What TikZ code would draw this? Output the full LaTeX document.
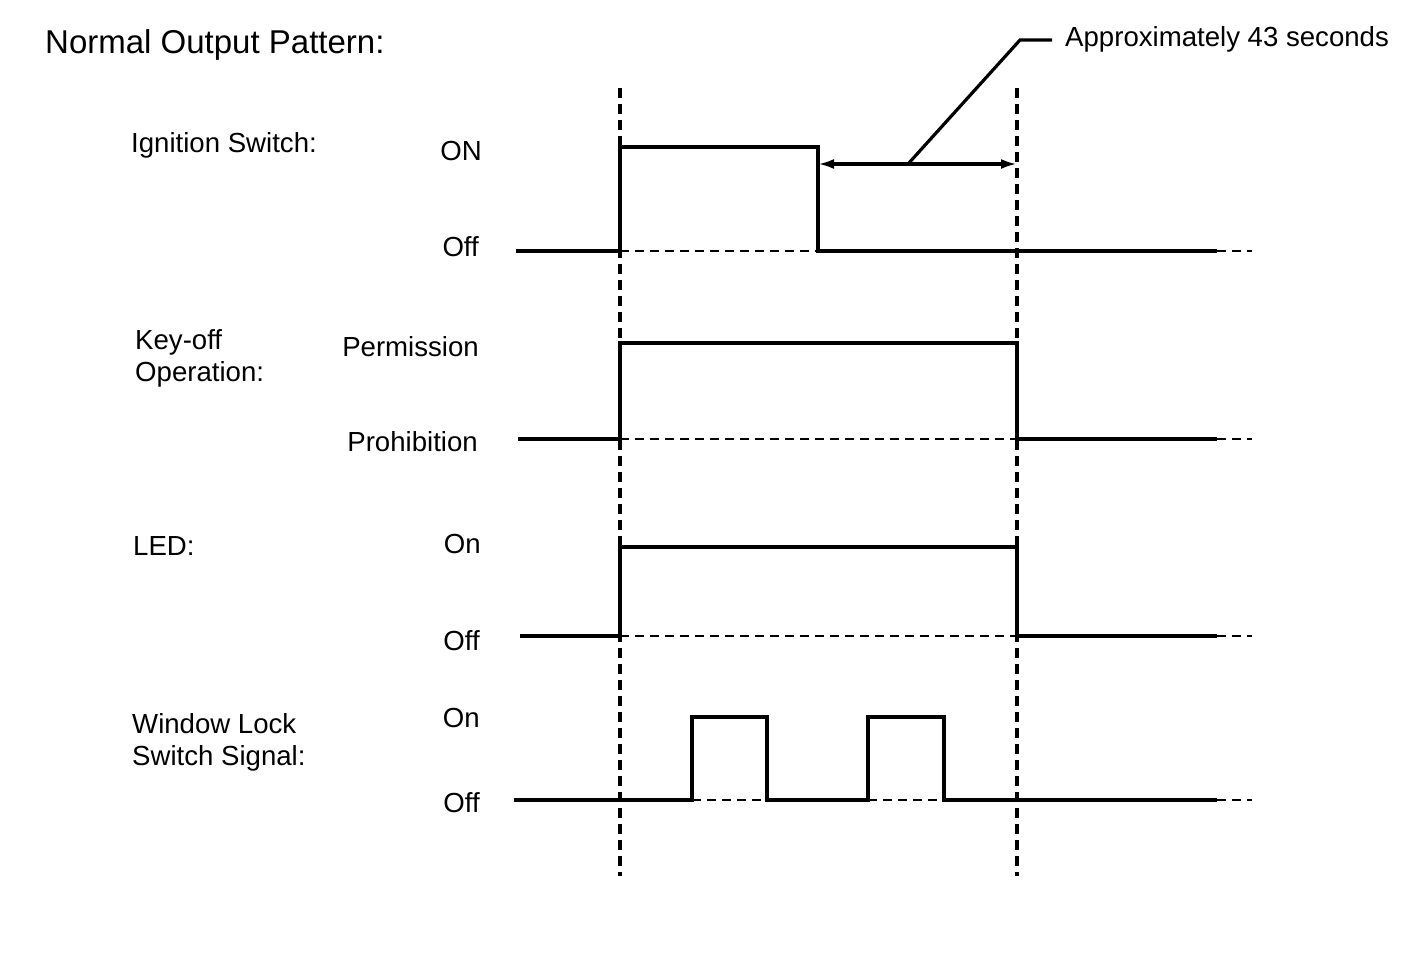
\documentclass[tikz,border=0pt]{standalone}
\usepackage{fontspec}
\setmainfont{Liberation Sans}
\usetikzlibrary{arrows.meta}
\begin{document}
\begin{tikzpicture}[x=1pt,y=-1pt,
  lbl/.style={inner sep=0pt,anchor=base west,font=\fontsize{27.6}{30.5}\selectfont},
  lvl/.style={inner sep=0pt,anchor=base east,font=\fontsize{27.6}{30.5}\selectfont},
  sig/.style={line width=4.5pt,line join=miter},
  guide/.style={line width=4pt,dash pattern=on 10pt off 6pt},
  ref/.style={line width=2.2pt,dash pattern=on 9pt off 6pt},
  dim/.style={line width=3.2pt,{Latex[length=16pt,width=10pt]}-{Latex[length=16pt,width=10pt]}},
  leader/.style={line width=3.2pt}]
\useasboundingbox (0,0) rectangle (1424,959);
% title
\node[lbl,font=\fontsize{33}{36}\selectfont] (title) at (45,53) {Normal Output Pattern:};
% row labels
\node[lbl] (ign) at (131,152) {Ignition Switch:};
\node[lbl] (key1) at (135,349) {Key-off};
\node[lbl] (key2) at (135,381) {Operation:};
\node[lbl] (led) at (133,555) {LED:};
\node[lbl] (win1) at (132,733) {Window Lock};
\node[lbl] (win2) at (132,765) {Switch Signal:};
% level labels
\node[lvl] (ignon) at (482,160) {ON};
\node[lvl] (ignoff) at (479,256) {Off};
\node[lvl] (perm) at (479,356) {Permission};
\node[lvl] (proh) at (478,451) {Prohibition};
\node[lvl] (ledon) at (481,553) {On};
\node[lvl] (ledoff) at (480,650) {Off};
\node[lvl] (winon) at (480,727) {On};
\node[lvl] (winoff) at (480,812) {Off};
% time markers
\coordinate (t0top) at (620,88);
\coordinate (t0bot) at (620,876);
\coordinate (t1top) at (1017,88);
\coordinate (t1bot) at (1017,876);
\draw[guide] (t0top) -- (t0bot);
\draw[guide] (t1top) -- (t1bot);
% Ignition switch
\draw[ref] (620,251) -- (818,251);
\draw[ref] (1217,251) -- (1252,251);
\draw[sig] (516,251) -- (620,251) -- (620,147) -- (818,147) -- (818,251) -- (1217,251);
% Key-off
\draw[ref] (620,439) -- (1017,439);
\draw[ref] (1217,439) -- (1252,439);
\draw[sig] (518,439) -- (620,439) -- (620,343) -- (1017,343) -- (1017,439) -- (1217,439);
% LED
\draw[ref] (620,636) -- (1017,636);
\draw[ref] (1217,636) -- (1252,636);
\draw[sig] (520,636) -- (620,636) -- (620,547) -- (1017,547) -- (1017,636) -- (1217,636);
% Window lock
\draw[ref] (692,800) -- (767,800);
\draw[ref] (868,800) -- (944,800);
\draw[ref] (1217,800) -- (1252,800);
\draw[sig] (514,800) -- (692,800) -- (692,717) -- (767,717) -- (767,800) -- (868,800) -- (868,717) -- (944,717) -- (944,800) -- (1217,800);
% dimension
\coordinate (da) at (818,164);
\coordinate (db) at (1017,164);
\coordinate (dm) at (908,164);
\coordinate (lk) at (1020,40);
\coordinate (le) at (1052,40);
\draw[dim] (da) -- (db);
\node[lbl] (approx) at (1065,46) {Approximately 43 seconds};
\draw[leader] (dm) -- (lk) -- (le);
\end{tikzpicture}
\end{document}
